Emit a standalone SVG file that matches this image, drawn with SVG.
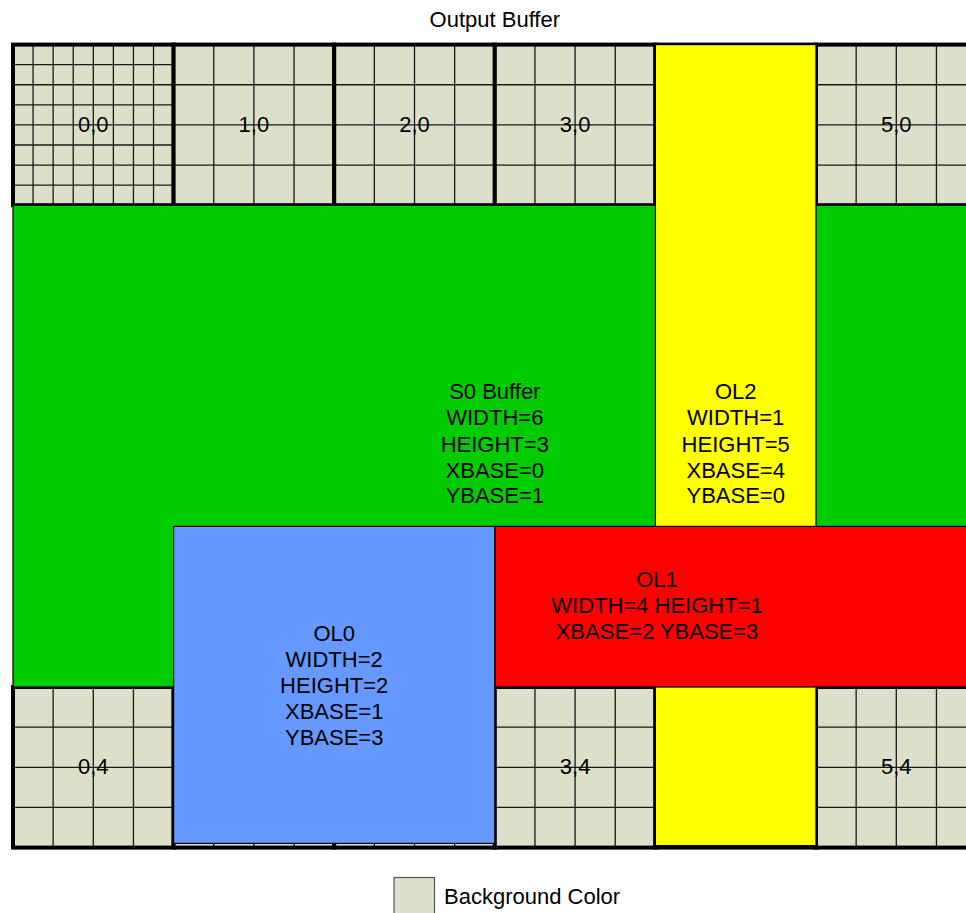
<svg xmlns="http://www.w3.org/2000/svg" xmlns:xlink="http://www.w3.org/1999/xlink" width="966" height="913" viewBox="0 0 966 913">
<style>
text{font-family:"Liberation Sans",Arial,Helvetica,sans-serif;font-size:22px;fill:#000;text-anchor:middle}
.ov{stroke:#000;stroke-width:1.2}
.lg{font-size:22px;text-anchor:start}
</style>
<defs>
<g id="c4">
<rect width="160.6" height="160.6" fill="#DCDFCA"/>
<path d="M40.15 0V160.6M80.3 0V160.6M120.45 0V160.6M0 40.15H160.6M0 80.3H160.6M0 120.45H160.6" stroke="#1a1a1a" stroke-width="1.3" fill="none"/>
<rect width="160.6" height="160.6" fill="none" stroke="#000" stroke-width="4"/>
</g>
<g id="c8">
<rect width="160.6" height="160.6" fill="#DCDFCA"/>
<path d="M20.075 0V160.6M40.15 0V160.6M60.225 0V160.6M80.3 0V160.6M100.375 0V160.6M120.45 0V160.6M140.525 0V160.6M0 20.075H160.6M0 40.15H160.6M0 60.225H160.6M0 80.3H160.6M0 100.375H160.6M0 120.45H160.6M0 140.525H160.6" stroke="#1a1a1a" stroke-width="1.3" fill="none"/>
<rect width="160.6" height="160.6" fill="none" stroke="#000" stroke-width="4"/>
</g>
</defs>
<rect width="966" height="913" fill="#fff"/>
<text x="494.8" y="27.3">Output Buffer</text>

<g id="cells">
<g id="cell-0-0"><use xlink:href="#c8" x="13" y="44.6"/><text x="93.3" y="131.5">0,0</text></g>
<g id="cell-1-0"><use xlink:href="#c4" x="173.6" y="44.6"/><text x="253.9" y="131.5">1,0</text></g>
<g id="cell-2-0"><use xlink:href="#c4" x="334.2" y="44.6"/><text x="414.5" y="131.5">2,0</text></g>
<g id="cell-3-0"><use xlink:href="#c4" x="494.8" y="44.6"/><text x="575.1" y="131.5">3,0</text></g>
<g id="cell-4-0"><use xlink:href="#c4" x="655.4" y="44.6"/></g>
<g id="cell-5-0"><use xlink:href="#c4" x="816" y="44.6"/><text x="896.3" y="131.5">5,0</text></g>
<g id="cell-0-4"><use xlink:href="#c4" x="13" y="687"/><text x="93.3" y="774.4">0,4</text></g>
<g id="cell-1-4"><use xlink:href="#c4" x="173.6" y="687"/></g>
<g id="cell-2-4"><use xlink:href="#c4" x="334.2" y="687"/></g>
<g id="cell-3-4"><use xlink:href="#c4" x="494.8" y="687"/><text x="575.1" y="774.4">3,4</text></g>
<g id="cell-4-4"><use xlink:href="#c4" x="655.4" y="687"/></g>
<g id="cell-5-4"><use xlink:href="#c4" x="816" y="687"/><text x="896.3" y="774.4">5,4</text></g>
</g>

<g id="s0-buffer">
<rect class="ov" x="13" y="205.2" width="980" height="481.8" fill="#00CC00"/>
<text x="494.8" y="399.3">S0 Buffer</text>
<text x="494.8" y="425.3">WIDTH=6</text>
<text x="494.8" y="451.5">HEIGHT=3</text>
<text x="494.8" y="477.5">XBASE=0</text>
<text x="494.8" y="503.3">YBASE=1</text>
</g>

<g id="ol2">
<rect class="ov" x="655.4" y="44.6" width="160.6" height="801" fill="#FFFF00"/>
<text x="735.7" y="399.3">OL2</text>
<text x="735.7" y="425.3">WIDTH=1</text>
<text x="735.7" y="451.5">HEIGHT=5</text>
<text x="735.7" y="477.5">XBASE=4</text>
<text x="735.7" y="503.3">YBASE=0</text>
</g>

<g id="ol1">
<rect class="ov" x="494.8" y="526.4" width="500" height="160.6" fill="#FF0000"/>
<text x="657" y="586.6">OL1</text>
<text x="657" y="612.6">WIDTH=4 HEIGHT=1</text>
<text x="657" y="638.6">XBASE=2 YBASE=3</text>
</g>

<g id="ol0">
<rect class="ov" x="173.6" y="526.4" width="321.2" height="317" fill="#6699FF"/>
<text x="334.2" y="641">OL0</text>
<text x="334.2" y="667">WIDTH=2</text>
<text x="334.2" y="693">HEIGHT=2</text>
<text x="334.2" y="719">XBASE=1</text>
<text x="334.2" y="745">YBASE=3</text>
</g>

<g id="connectors"></g>

<g id="legend">
<rect x="394" y="877.5" width="40.5" height="40" fill="#DCDFCA" stroke="#555" stroke-width="1.2"/>
<text class="lg" x="444" y="904">Background Color</text>
</g>
</svg>
